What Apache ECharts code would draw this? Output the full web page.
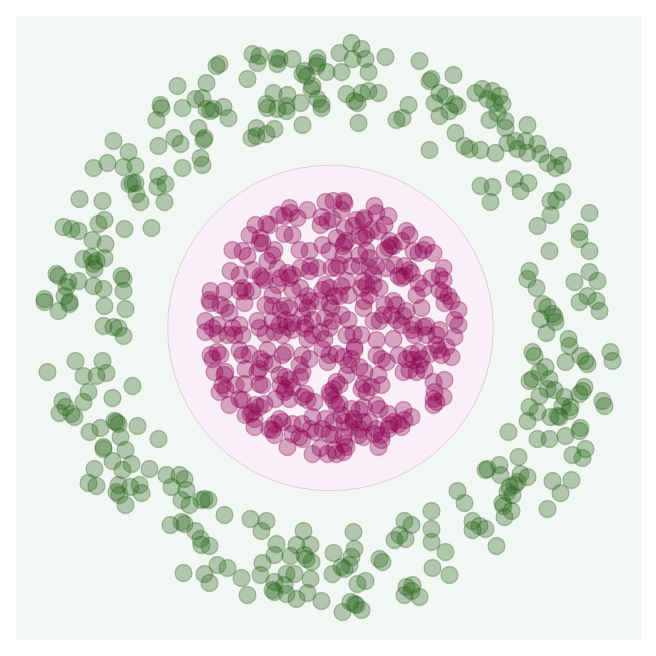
<!DOCTYPE html>
<html>
<head>
<meta charset="utf-8">
<style>
  html, body { margin: 0; padding: 0; background: #ffffff; }
  #chart { width: 656px; height: 656px; }
</style>
<script src="https://cdn.jsdelivr.net/npm/echarts@6/dist/echarts.min.js"></script>
</head>
<body>
<div id="chart"></div>
<script>
// class 0: outer ring (green)
const outerRing = [
  [-0.56,1.31],[-0.545,1.32],[-0.755,1.21],[-0.61,1.225],[-0.84,1.115],[-0.835,1.1],[-0.73,1.1],[-0.665,1.145],
  [-0.63,1.15],[-0.61,1.095],[-0.575,1.095],[-0.59,1.085],[-0.525,1.105],[-0.5,1.05],[-0.86,1.04],[-0.65,1.0],
  [-0.77,0.95],[-0.74,0.92],[-0.625,0.94],[-0.62,0.95],[-0.85,0.91],[-1.075,0.935],[-1.0,0.88],[-1.105,0.825],
  [-1.175,0.8],[-1.025,0.805],[-0.965,0.81],[-0.64,0.85],[-0.63,0.815],[-0.73,0.8],[-0.85,0.76],[-0.855,0.705],
  [-0.815,0.72],[-0.995,0.72],[-0.98,0.725],[-0.965,0.725],[-0.96,0.67],[-0.94,0.63],[-0.82,0.63],[-1.245,0.645],
  [-1.13,0.635],[-1.325,0.505],[-1.285,0.495],[-1.25,0.485],[-1.15,0.52],[-1.12,0.54],[-1.02,0.495],[-0.885,0.5],
  [-0.38,1.37],[-0.345,1.36],[-0.355,1.325],[-0.26,1.35],[-0.255,1.32],[-0.245,1.345],[-0.18,1.345],[-0.405,1.245],
  [-0.12,1.285],[-0.11,1.26],[-0.13,1.27],[-0.055,1.35],[-0.055,1.325],[-0.06,1.31],[-0.01,1.28],[0.065,1.28],
  [-0.08,1.21],[-0.085,1.195],[0.055,1.375],[0.115,1.425],[0.12,1.345],[0.165,1.395],[0.185,1.345],[0.2,1.28],
  [0.285,1.355],[0.455,1.335],[0.515,1.245],[0.505,1.235],[0.555,1.175],[0.53,1.125],[0.555,1.06],[0.09,1.17],
  [0.165,1.175],[0.2,1.185],[0.25,1.175],[0.13,1.135],[0.145,1.125],[-0.275,1.175],[-0.205,1.165],[-0.14,1.125],
  [-0.31,1.12],[-0.305,1.1],[-0.255,1.095],[-0.21,1.085],[-0.21,1.11],[-0.055,1.145],[-0.035,1.12],[-0.035,1.1],
  [0.4,1.115],[0.34,1.04],[0.37,1.05],[0.15,1.025],[-0.13,1.015],[-0.36,1.0],[-0.385,0.95],[-0.36,0.96],
  [-0.31,0.97],[-0.27,0.995],[0.505,0.89],
  [0.625,1.265],[0.585,1.16],[0.63,1.12],[0.645,1.11],[0.605,1.085],[0.735,1.175],[0.77,1.195],[0.795,1.145],
  [0.82,1.185],[0.855,1.16],[0.87,1.12],[0.83,1.125],[0.845,1.075],[0.805,1.04],[0.885,1.035],[0.885,1.0],
  [0.995,1.015],[0.635,0.975],[0.68,0.91],[0.705,0.895],[0.76,0.89],[0.835,0.875],[0.895,0.925],[0.935,0.935],
  [0.945,0.895],[0.985,0.935],[0.995,0.875],[1.045,0.92],[1.06,0.87],[1.095,0.825],[1.135,0.8],[1.15,0.86],
  [1.17,0.815],[0.76,0.71],[0.82,0.705],[0.81,0.63],[0.93,0.745],[0.96,0.685],[1.0,0.725],[1.11,0.635],
  [1.14,0.64],[1.17,0.68],[1.305,0.575],[1.11,0.565],[1.045,0.51],[1.255,0.48],
  [-1.18,0.44],[-1.115,0.42],[-1.225,0.345],[-1.185,0.355],[-1.175,0.32],[-1.16,0.335],[-1.12,0.35],[-1.17,0.295],
  [-1.36,0.27],[-1.35,0.26],[-1.3,0.23],[-1.31,0.205],[-1.25,0.235],[-1.32,0.16],[-1.175,0.21],[-1.125,0.195],
  [-1.035,0.26],[-1.025,0.245],[-1.025,0.185],[-1.42,0.145],[-1.42,0.13],[-1.35,0.085],[-1.295,0.12],[-1.295,0.13],
  [-1.12,0.11],[-1.015,0.095],[-1.125,0.01],[-1.075,0.005],[-1.05,0.0],[-1.025,-0.04],[-1.405,-0.22],[-1.265,-0.165],
  [-1.13,-0.165],[-1.225,-0.24],[-1.16,-0.24],[-1.11,-0.225],[-0.98,-0.29],[-1.2,-0.32],[-1.225,-0.37],[-1.33,-0.365],
  [-1.315,-0.395],[-1.345,-0.425],[-1.285,-0.43],[-1.27,-0.445],[-1.08,-0.35],[-1.06,-0.47],[-1.05,-0.48],[-1.07,-0.465],
  [-1.14,-0.5],[-1.195,-0.52],[-0.955,-0.49],[-1.04,-0.545],[-0.85,-0.555],
  [-1.125,-0.595],[-1.125,-0.605],[-1.015,-0.61],[-1.08,-0.665],[-0.985,-0.68],[-1.03,-0.71],[-1.17,-0.705],[-1.2,-0.775],
  [-1.16,-0.79],[-1.05,-0.785],[-1.06,-0.82],[-1.045,-0.835],[-1.015,-0.885],[-0.99,-0.795],[-0.945,-0.785],[-0.935,-0.825],
  [-0.895,-0.705],[-0.81,-0.735],[-0.785,-0.795],[-0.745,-0.735],[-0.72,-0.755],[-0.71,-0.81],[-0.735,-0.86],[-0.695,-0.885],
  [-0.635,-0.86],[-0.62,-0.855],[-0.6,-0.86],[-0.52,-0.935],[-0.79,-0.985],[-0.735,-0.97],[-0.72,-0.98],[-0.665,-1.015],
  [-0.64,-1.055],[-0.635,-1.085],[-0.595,-1.09],[-0.725,-1.225],[-0.62,-1.23],[-0.595,-1.275],[-0.555,-1.185],[-0.505,-1.2],
  [-0.39,-0.955],[-0.31,-0.965],[-0.335,-1.015],[-0.125,-1.015],[0.125,-1.02],[-0.26,-1.08],[-0.27,-1.135],[-0.16,-1.085],
  [-0.09,-1.085],[-0.19,-1.14],[-0.12,-1.135],[-0.11,-1.155],[-0.085,-1.17],[-0.33,-1.175],[-0.34,-1.235],[-0.435,-1.25],
  [-0.405,-1.335],[-0.27,-1.27],[-0.28,-1.31],[-0.27,-1.32],[-0.21,-1.23],[-0.17,-1.23],[-0.22,-1.285],[-0.21,-1.33],
  [-0.16,-1.355],[-0.09,-1.255],[-0.105,-1.325],[-0.035,-1.365],[0.025,-1.125],[0.13,-1.105],[0.115,-1.145],[0.105,-1.185],
  [0.065,-1.195],[0.08,-1.205],[0.02,-1.23],[0.145,-1.28],[0.185,-1.265],[0.07,-1.42],[0.11,-1.37],[0.13,-1.38],
  [0.14,-1.385],[0.165,-1.41],[0.255,-1.155],[0.27,-1.17],[0.33,-1.06],[0.355,-1.035],[0.38,-0.965],[0.415,-0.985],
  [0.385,-1.055],[0.515,-0.915],[0.515,-1.005],[0.515,-1.07],[0.52,-1.2],[0.39,-1.295],[0.42,-1.285],[0.38,-1.335],
  [0.455,-1.345],[0.415,-1.315],
  [1.105,0.385],[1.255,0.445],[1.305,0.385],[1.005,0.285],[0.995,0.245],[1.04,0.2],[1.23,0.23],[1.305,0.28],
  [1.345,0.235],[1.295,0.16],[1.255,0.13],[1.34,0.135],[1.355,0.085],[1.07,0.12],[1.095,0.105],[1.12,0.07],
  [1.13,0.055],[1.06,0.045],[1.135,0.03],[1.09,-0.025],[1.2,-0.055],[1.205,-0.09],[1.02,-0.12],[1.03,-0.14],
  [1.185,-0.17],[1.26,-0.14],[1.285,-0.165],[1.295,-0.18],[1.41,-0.12],[1.42,-0.165],[1.085,-0.195],[1.055,-0.22],
  [1.02,-0.255],[1.005,-0.265],[1.105,-0.255],[1.095,-0.305],[1.13,-0.31],[1.055,-0.34],[1.18,-0.345],[1.17,-0.39],
  [1.205,-0.415],[1.21,-0.395],[1.255,-0.33],[1.28,-0.295],[1.27,-0.315],[1.37,-0.365],[1.38,-0.39],[1.005,-0.395],
  [1.045,-0.42],[0.995,-0.465],[1.11,-0.445],[1.145,-0.44],[1.155,-0.445],[1.26,-0.5],[1.255,-0.515],[0.9,-0.52],
  [1.045,-0.555],[1.105,-0.555],[1.185,-0.54],
  [1.22,-0.635],[1.27,-0.65],[1.285,-0.605],[0.95,-0.645],[0.785,-0.71],[0.795,-0.705],[0.855,-0.685],[0.86,-0.735],
  [0.96,-0.73],[0.995,-0.745],[0.945,-0.77],[0.93,-0.785],[0.905,-0.795],[0.895,-0.82],[0.92,-0.835],[1.12,-0.765],
  [1.215,-0.76],[1.16,-0.825],[0.645,-0.815],[0.68,-0.875],[0.87,-0.875],[0.875,-0.89],[0.915,-0.915],[0.88,-0.945],
  [1.095,-0.905],[0.585,-1.12],[0.605,-1.235],[0.72,-0.965],[0.755,-0.99],[0.785,-1.005],[0.72,-1.01],[0.84,-1.09]
];

// class 1: inner disc (purple)
const innerDisc = [
  [-0.015,0.63],[-0.105,0.59],[-0.195,0.6],[-0.19,0.575],[-0.155,0.55],[-0.25,0.565],[-0.22,0.56],[-0.035,0.555],
  [-0.005,0.535],[0.02,0.545],[-0.04,0.515],[-0.365,0.515],[-0.31,0.52],[-0.295,0.515],[-0.395,0.465],[-0.34,0.45],
  [-0.33,0.425],[-0.345,0.425],[-0.22,0.47],[-0.18,0.465],[-0.145,0.39],[-0.095,0.385],[-0.03,0.415],[0.005,0.385],
  [-0.48,0.39],[-0.43,0.385],[-0.405,0.36],[-0.27,0.39],[-0.28,0.365],[-0.305,0.335],[-0.49,0.285],[-0.445,0.265],
  [-0.38,0.29],[-0.33,0.25],[-0.32,0.24],[-0.34,0.26],[-0.255,0.3],[-0.24,0.25],[-0.195,0.25],[-0.18,0.265],
  [-0.205,0.275],[-0.14,0.3],[-0.09,0.31],[-0.055,0.3],[-0.095,0.285],[-0.18,0.19],[-0.14,0.2],[-0.28,0.165],
  [-0.255,0.215],[-0.43,0.2],[-0.415,0.185],[-0.38,0.185],[-0.445,0.185],[-0.52,0.185],[-0.59,0.185],[-0.595,0.14],
  [-0.59,0.125],[-0.42,0.125],[-0.515,0.1],[-0.495,0.075],[-0.54,0.115],[-0.315,0.115],[-0.28,0.11],[-0.22,0.11],
  [-0.195,0.1],[-0.24,0.09],[-0.105,0.16],[-0.09,0.135],[-0.13,0.125],[-0.03,0.19],[-0.015,0.215],[-0.045,0.135],
  [0.005,0.125],[-0.105,0.1],[-0.13,0.06],[-0.08,0.04],[-0.615,0.035],[-0.555,0.015],[-0.58,0.0],[-0.445,0.015],
  [-0.48,0.0],[-0.355,0.035],[-0.345,0.0],[-0.28,0.035],[-0.245,0.015],[-0.215,0.04],[-0.18,0.025],[-0.02,0.05],
  [0.02,0.035],[0.005,0.0],[-0.12,0.0],
  [0.025,0.635],[0.075,0.635],[0.08,0.625],[0.065,0.59],[0.14,0.54],[0.175,0.54],[0.18,0.55],[0.125,0.51],
  [0.23,0.61],[0.24,0.575],[0.3,0.56],[0.28,0.515],[0.25,0.485],[0.215,0.49],[0.08,0.5],[0.04,0.45],
  [0.08,0.425],[0.09,0.435],[0.075,0.41],[0.155,0.46],[0.175,0.45],[0.19,0.465],[0.305,0.435],[0.315,0.415],
  [0.3,0.4],[0.325,0.41],[0.28,0.385],[0.39,0.485],[0.405,0.465],[0.365,0.435],[0.425,0.385],[0.45,0.375],
  [0.475,0.39],[0.49,0.415],[0.525,0.375],[0.155,0.365],[0.205,0.35],[0.19,0.385],[0.075,0.365],[0.055,0.315],
  [0.04,0.3],[0.015,0.3],[0.115,0.31],[0.155,0.31],[0.205,0.3],[0.24,0.31],[0.225,0.265],[0.29,0.3],
  [0.33,0.315],[0.38,0.31],[0.405,0.29],[0.415,0.275],[0.35,0.26],[0.365,0.25],[0.38,0.26],[0.575,0.3],
  [0.555,0.26],[0.575,0.24],[0.515,0.25],[0.475,0.2],[0.45,0.225],[0.44,0.165],[0.175,0.235],[0.19,0.215],
  [0.225,0.215],[0.255,0.2],[0.205,0.165],[0.165,0.2],[0.09,0.235],[0.065,0.21],[0.055,0.16],[0.1,0.165],
  [0.03,0.16],[0.005,0.2],[0.555,0.19],[0.575,0.175],[0.6,0.16],[0.615,0.135],[0.58,0.125],[0.65,0.09],
  [0.63,0.04],[0.65,0.015],[0.325,0.135],[0.34,0.115],[0.28,0.115],[0.18,0.135],[0.175,0.1],[0.39,0.085],
  [0.375,0.06],[0.315,0.065],[0.34,0.04],[0.465,0.1],[0.425,0.015],[0.49,0.01],[0.555,-0.01],[0.015,0.1],
  [0.1,0.04],[0.065,0.065],[0.255,0.035],[0.275,0.065],[0.225,0.035],
  [-0.615,-0.02],[-0.555,-0.03],[-0.505,-0.035],[-0.47,-0.035],[-0.43,-0.035],[-0.315,-0.03],[-0.27,-0.02],[-0.23,-0.035],
  [-0.205,0.005],[-0.18,-0.01],[-0.115,0.02],[-0.105,-0.055],[-0.08,-0.035],[-0.04,-0.02],[-0.02,-0.055],[-0.59,-0.135],
  [-0.555,-0.12],[-0.54,-0.135],[-0.58,-0.155],[-0.445,-0.11],[-0.43,-0.135],[-0.395,-0.13],[-0.305,-0.11],[-0.34,-0.155],
  [-0.32,-0.17],[-0.345,-0.205],[-0.355,-0.22],[-0.28,-0.18],[-0.215,-0.12],[-0.23,-0.135],[-0.13,-0.135],[-0.145,-0.185],
  [-0.095,-0.155],[-0.03,-0.105],[0.005,-0.135],[-0.005,-0.17],[-0.57,-0.22],[-0.515,-0.22],[-0.52,-0.235],[-0.415,-0.205],
  [-0.245,-0.235],[-0.215,-0.245],[-0.195,-0.26],[-0.18,-0.295],[-0.24,-0.285],[-0.215,-0.305],[-0.14,-0.245],[-0.13,-0.22],
  [-0.53,-0.285],[-0.515,-0.305],[-0.545,-0.32],[-0.465,-0.285],[-0.42,-0.28],[-0.345,-0.28],[-0.33,-0.285],[-0.445,-0.355],
  [-0.495,-0.385],[-0.43,-0.36],[-0.365,-0.385],[-0.345,-0.395],[-0.32,-0.38],[-0.38,-0.42],[-0.39,-0.43],[-0.265,-0.355],
  [-0.22,-0.32],[-0.195,-0.355],[-0.13,-0.345],[-0.105,-0.36],[-0.07,-0.37],[-0.115,-0.33],[0.005,-0.32],[0.01,-0.335],
  [-0.37,-0.455],[-0.37,-0.495],[-0.415,-0.435],[-0.245,-0.455],[-0.23,-0.47],[-0.27,-0.48],[-0.28,-0.51],[-0.18,-0.48],
  [-0.13,-0.48],[-0.145,-0.545],[-0.13,-0.555],[-0.18,-0.53],[-0.27,-0.535],[-0.295,-0.505],[-0.08,-0.445],[-0.09,-0.505],
  [-0.065,-0.52],[-0.015,-0.455],[0.005,-0.53],[-0.03,-0.505],[-0.205,-0.595],[-0.04,-0.6],[-0.005,-0.63],[-0.08,-0.63],
  [0.09,-0.035],[0.125,-0.03],[0.165,-0.035],[0.13,-0.095],[0.13,-0.11],[0.04,-0.13],[0.075,-0.145],[0.115,-0.155],
  [0.24,-0.06],[0.325,-0.055],[0.365,0.015],[0.415,-0.01],[0.43,-0.035],[0.475,0.005],[0.49,-0.035],[0.54,-0.035],
  [0.63,-0.045],[0.59,-0.095],[0.55,-0.11],[0.54,-0.085],[0.565,-0.135],[0.615,-0.145],[0.505,-0.13],[0.24,-0.135],
  [0.265,-0.155],[0.29,-0.17],[0.35,-0.135],[0.39,-0.155],[0.415,-0.13],[0.45,-0.12],[0.465,-0.155],[0.425,-0.16],
  [0.375,-0.22],[0.405,-0.21],[0.44,-0.22],[0.48,-0.21],[0.455,-0.185],[0.155,-0.195],[0.18,-0.22],[0.25,-0.235],
  [0.04,-0.27],[0.055,-0.285],[0.025,-0.305],[0.09,-0.235],[0.1,-0.185],[0.175,-0.28],[0.165,-0.305],[0.19,-0.32],
  [0.215,-0.295],[0.265,-0.285],[0.525,-0.27],[0.58,-0.26],[0.53,-0.32],[0.525,-0.355],[0.54,-0.37],[0.525,-0.385],
  [0.575,-0.345],[0.025,-0.36],[0.04,-0.385],[0.055,-0.38],[0.115,-0.405],[0.155,-0.41],[0.175,-0.395],[0.24,-0.385],
  [0.255,-0.405],[0.3,-0.43],[0.375,-0.41],[0.415,-0.445],[0.38,-0.46],[0.325,-0.47],[0.35,-0.48],[0.365,-0.495],
  [0.025,-0.47],[0.065,-0.435],[0.08,-0.47],[0.125,-0.455],[0.105,-0.495],[0.125,-0.47],[0.205,-0.47],[0.24,-0.505],
  [0.23,-0.53],[0.265,-0.535],[0.265,-0.56],[0.25,-0.595],[0.175,-0.47],[0.155,-0.505],[0.15,-0.535],[0.175,-0.545],
  [0.025,-0.535],[0.075,-0.545],[0.08,-0.58],[0.09,-0.595],[0.075,-0.62],[0.03,-0.61],[0.04,-0.63],[0.305,-0.485],
  [0.3,-0.505]
];

// decision boundary (roughly circular) : centre and radius
const boundaryCenter = [0.01, 0.0];
const boundaryRadius = 0.814;

const xRange = [-1.5625, 1.5625];
const yRange = [-1.56, 1.56];

const chart = echarts.init(document.getElementById('chart'), null, { renderer: 'canvas' });

chart.setOption({
  animation: false,
  backgroundColor: '#ffffff',
  grid: {
    left: 16, right: 15, top: 16, bottom: 16,
    show: true,
    backgroundColor: '#f2f7f3',
    borderWidth: 0
  },
  xAxis: { type: 'value', min: xRange[0], max: xRange[1], show: false },
  yAxis: { type: 'value', min: yRange[0], max: yRange[1], show: false },
  series: [
    {
      type: 'custom',
      z: 1,
      silent: true,
      data: [[boundaryCenter[0], boundaryCenter[1], boundaryRadius]],
      renderItem: function (params, api) {
        const c = api.coord([api.value(0), api.value(1)]);
        const s = api.size([api.value(2), api.value(2)]);
        return {
          type: 'circle',
          shape: { cx: c[0], cy: c[1], r: s[0] },
          style: { fill: '#f8f0f6', stroke: '#e6c9d9', lineWidth: 1 }
        };
      }
    },
    {
      type: 'scatter',
      z: 3,
      data: outerRing,
      symbol: 'circle',
      symbolSize: 17,
      itemStyle: {
        color: 'rgba(39,100,25,0.4)',
        borderColor: 'rgba(39,100,25,0.4)',
        borderWidth: 1.3
      }
    },
    {
      type: 'scatter',
      z: 3,
      data: innerDisc,
      symbol: 'circle',
      symbolSize: 17,
      itemStyle: {
        color: 'rgba(142,1,82,0.4)',
        borderColor: 'rgba(142,1,82,0.4)',
        borderWidth: 1.3
      }
    }
  ]
});
</script>
</body>
</html>
